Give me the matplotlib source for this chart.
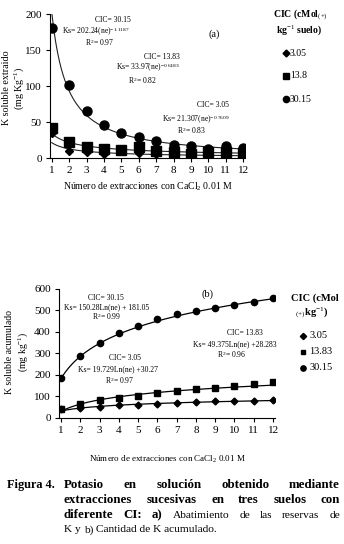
import numpy as np
import matplotlib
matplotlib.use('Agg')
import matplotlib.pyplot as plt
from matplotlib.lines import Line2D

plt.rcParams['font.family'] = ['Liberation Serif', 'DejaVu Serif']
plt.rcParams['mathtext.fontset'] = 'custom'
plt.rcParams['mathtext.rm'] = 'Liberation Serif'
plt.rcParams['mathtext.it'] = 'Liberation Serif:italic'
plt.rcParams['mathtext.bf'] = 'Liberation Serif:bold'

# extraction number
ne = np.arange(1, 13)

# (a) K soluble extraido per extraction (mg/kg)
ks_305 = [35, 10, 8, 6, 10, 7, 6, 5, 5, 5, 5, 5]
ks_138 = [41, 22, 15, 12, 11, 15, 10, 9, 6, 8, 8, 7]
ks_3015 = [180, 102, 65, 46, 35, 29, 23, 18, 16, 13, 16, 14]

# (b) K soluble acumulado (mg/kg)
ac_305 = [38, 45, 50, 57, 60, 65, 70, 73, 75, 75, 78, 80]
ac_1383 = [40, 65, 80, 90, 100, 115, 125, 135, 140, 148, 155, 165]
ac_3015 = [183, 285, 350, 395, 428, 458, 483, 498, 512, 525, 540, 556]

# fitted equations given in the figure
pow_fit = {'3.05': (21.307, -0.7609), '13.8': (33.97, -0.6483), '30.15': (202.24, -1.1187)}
log_fit = {'3.05': (19.729, 30.27), '13.83': (49.375, 28.283), '30.15': (150.28, 181.05)}

W, H = 344, 544
fig = plt.figure(figsize=(W / 100, H / 100), dpi=100)

def fx(px):
    return px / W

def fy(py):
    return 1 - py / H

def at(px, py, s, size=5.5, **kw):
    fig.text(fx(px), fy(py), s, fontsize=size, ha='center', va='center', **kw)

# ---------------- panel (a)
ax1 = fig.add_axes([fx(50), fy(158), fx(195), (158 - 14) / H])
xs = np.linspace(1, 12, 200)
for key in ['3.05', '13.8', '30.15']:
    a, b = pow_fit[key]
    ax1.plot(xs, a * xs ** b, color='#222222', lw=0.8)
ax1.plot(ne, ks_305, 'D', color='black', ms=4.5, ls='none')
ax1.plot(ne, ks_138, 's', color='black', ms=6.5, ls='none')
ax1.plot(ne, ks_3015, 'o', color='black', ms=6.5, ls='none')
ax1.set_xlim(0.9, 12.1)
ax1.set_ylim(0, 200)
ax1.set_xticks(ne)
ax1.set_yticks([0, 50, 100, 150, 200])
for s in ['top', 'right']:
    ax1.spines[s].set_visible(False)
ax1.tick_params(labelsize=8, length=3, width=0.8, direction='out', pad=3)
ax1.set_xlabel('Número de extracciones con CaCl$_2$ 0.01 M', fontsize=7, labelpad=4)
at(7, 88, 'K soluble extraido', size=7.2, rotation=90)
at(19, 88, '(mg Kg$^{-1}$)', size=7.2, rotation=90)

at(113, 20, 'CIC= 30.15')
at(96, 32, 'Ks= 202.24(ne)$^{-1.1187}$')
at(100, 43, 'R$^2$= 0.97')
at(162, 57, 'CIC= 13.83')
at(148, 68, 'Ks= 33.97(ne)$^{-0.6483}$')
at(143, 80, 'R$^2$= 0.82')
at(213, 105, 'CIC= 3.05')
at(196, 120, 'Ks= 21.307(ne)$^{-0.7609}$')
at(192, 131, 'R$^2$= 0.83')
at(214, 34, '(a)', size=7.5)

# legend (a)
at(300, 15, 'CIC (cMol$_{(+)}$', size=7, fontweight='bold')
at(299, 30, 'kg$^{-1}$ suelo)', size=7, fontweight='bold')
for py, mk, lab, ms in [(53, 'D', '3.05', 3.5), (76, 's', '13.8', 4.5), (99, 'o', '30.15', 4.5)]:
    fig.add_artist(Line2D([fx(286)], [fy(py)], marker=mk, color='black', ms=ms, ls='none'))
    fig.text(fx(290), fy(py), lab, fontsize=7, ha='left', va='center')

# ---------------- panel (b)
ax2 = fig.add_axes([fx(59), fy(417.5), fx(216), (417.5 - 289) / H])
for key in ['3.05', '13.83', '30.15']:
    a, b = log_fit[key]
    ax2.plot(xs, a * np.log(xs) + b, color='black', lw=0.9)
ax2.plot(ne, ac_305, 'D', color='black', ms=3.5, ls='none')
ax2.plot(ne, ac_1383, 's', color='black', ms=4, ls='none')
ax2.plot(ne, ac_3015, 'o', color='black', ms=4.5, ls='none')
ax2.set_xlim(0.9, 12.1)
ax2.set_ylim(0, 600)
ax2.set_xticks(ne)
ax2.set_yticks(range(0, 601, 100))
for s in ['top', 'right']:
    ax2.spines[s].set_visible(False)
ax2.tick_params(labelsize=8, length=3, width=0.8, direction='out', pad=3)
ax2.set_xlabel('Número de extracciones con CaCl$_2$ 0.01 M', fontsize=6.5, labelpad=14)
at(10, 352, 'K soluble acumulado', size=7, rotation=90)
at(23, 352, '(mg kg$^{-1}$)', size=7, rotation=90)

at(106, 298, 'CIC= 30.15')
at(107, 307, 'Ks= 150.28Ln(ne) + 181.05')
at(107, 317, 'R$^2$= 0.99')
at(208, 294, '(b)', size=7.5)
at(245, 333, 'CIC= 13.83')
at(235, 344, 'Ks= 49.375Ln(ne) +28.283')
at(232, 355, 'R$^2$= 0.96')
at(125, 358, 'CIC= 3.05')
at(118, 369, 'Ks= 19.729Ln(ne) +30.27')
at(120, 380, 'R$^2$= 0.97')

# legend (b)
at(315, 298, 'CIC (cMol', size=7.5, fontweight='bold')
at(312, 313, '$_{(+)}$kg$^{-1}$)', size=7.5, fontweight='bold')
for py, mk, lab, ms in [(336, 'D', '3.05', 3.2), (352, 's', '13.83', 3.5), (368, 'o', '30.15', 3.8)]:
    fig.add_artist(Line2D([fx(303)], [fy(py)], marker=mk, color='black', ms=ms, ls='none'))
    fig.text(fx(309), fy(py), lab, fontsize=7.5, ha='left', va='center')

# ---------------- caption (bold part is letter-spaced in the original, so larger)
CAP_B, CAP_N = 9.3, 8.2
fig.canvas.draw()
renderer = fig.canvas.get_renderer()
B, N = 'bold', 'normal'

def size_of(wt):
    return CAP_B if wt == B else CAP_N

def width_px(s, weight):
    t = fig.text(0, 0, s, fontsize=size_of(weight), fontweight=weight)
    w = t.get_window_extent(renderer).width
    t.remove()
    return w

def justify(words, x0, x1, py):
    # words: list of (text, weight)
    widths = [width_px(w, wt) for w, wt in words]
    gap = (x1 - x0 - sum(widths)) / (len(words) - 1)
    x = x0
    for (w, wt), wd in zip(words, widths):
        fig.text(fx(x), fy(py), w, fontsize=size_of(wt), fontweight=wt, ha='left', va='center')
        x += wd + gap

fig.text(fx(7), fy(485), 'Figura 4.', fontsize=CAP_N + 0.6, fontweight=B, ha='left', va='center')
justify([(w, B) for w in 'Potasio en solución obtenido mediante'.split()], 64, 340, 485)
justify([(w, B) for w in 'extracciones sucesivas en tres suelos con'.split()], 64, 340, 500)
justify([('diferente', B), ('CI:', B), ('a)', B), ('Abatimiento', N), ('de', N), ('las', N),
         ('reservas', N), ('de', N)], 64, 340, 515)
x = 64
for w, wt in [('K y ', N), ('b)', N), (' Cantidad de K acumulado.', N)]:
    fig.text(fx(x), fy(530), w, fontsize=CAP_N, fontweight=wt, ha='left', va='center')
    x += width_px(w.replace(' ', '\u00a0'), wt)

fig.savefig('out.png', dpi=100)
